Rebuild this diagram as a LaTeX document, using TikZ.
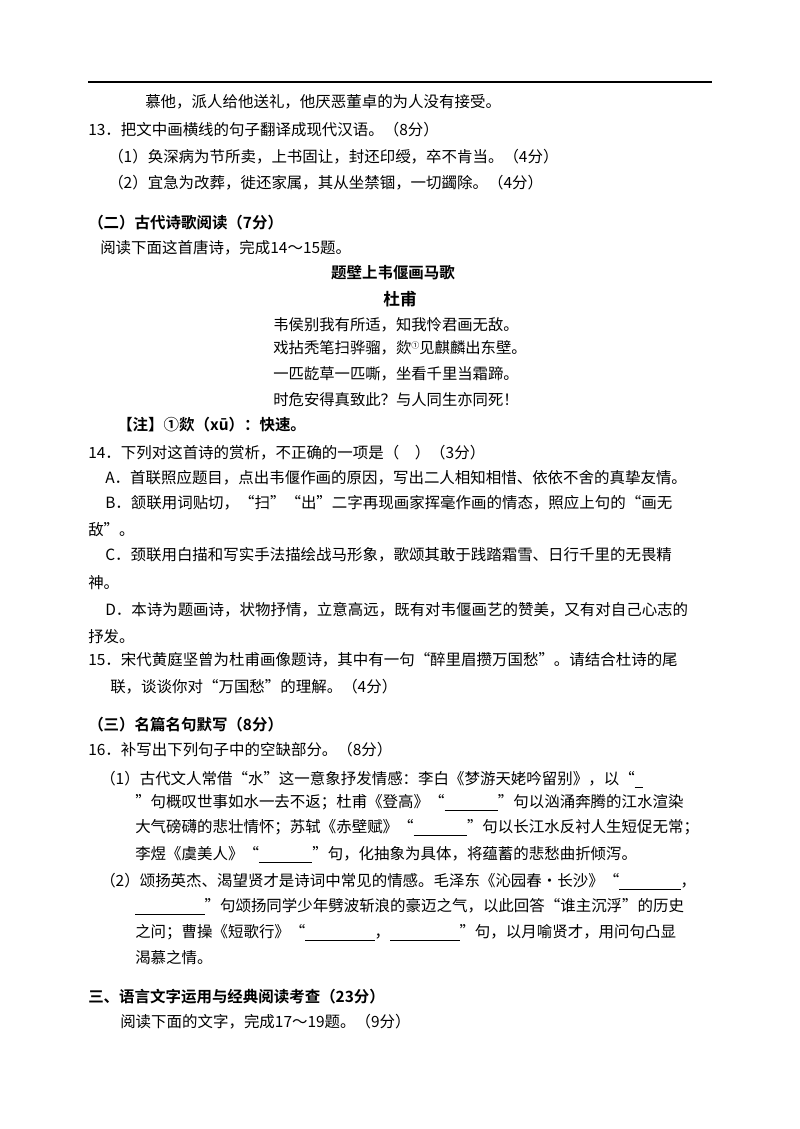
\documentclass[tikz,border=0pt]{standalone}
\usepackage{fontspec}
\setmainfont{Noto Sans CJK SC}
\newfontfamily\bfcjk{Noto Sans CJK SC Bold}
\newcommand{\blk}[1]{\rule[-2.5pt]{#1}{0.6pt}}
\begin{document}
\begin{tikzpicture}[x=0.75pt,y=-0.75pt,
  t/.style={anchor=west,inner sep=0pt,font=\fontsize{11.6pt}{14pt}\selectfont},
  hb/.style={anchor=west,inner sep=0pt,font=\fontsize{11.6pt}{14pt}\bfcjk},
  pm/.style={anchor=center,inner sep=0pt,font=\fontsize{11.5pt}{13pt}\selectfont}]
\useasboundingbox[fill=white] (0,0) rectangle (800,1129);
\draw[line width=1.2pt] (88,82) -- (712,82);
\node[t] (l1) at (145,102) {慕他，派人给他送礼，他厌恶董卓的为人没有接受。};
\node[t] (l2) at (88,130) {13．把文中画横线的句子翻译成现代汉语。（8分）};
\node[t] (l3) at (108,157) {（1）奂深病为节所卖，上书固让，封还印绶，卒不肯当。（4分）};
\node[t] (l4) at (108,183) {（2）宜急为改葬，徙还家属，其从坐禁锢，一切蠲除。（4分）};
\node[hb] (l5) at (88,223) {（二）古代诗歌阅读（7分）};
\node[t] (l6) at (100,248) {阅读下面这首唐诗，完成14～15题。};
\node[anchor=center,inner sep=0pt,font=\fontsize{11.6pt}{14pt}\bfcjk] (ti) at (393,273) {题壁上韦偃画马歌};
\node[anchor=center,inner sep=0pt,font=\fontsize{12.5pt}{14pt}\bfcjk] (au) at (400,299) {杜甫};
\node[pm] (p1) at (396,325) {韦侯别我有所适，知我怜君画无敌。};
\node[pm] (p2) at (400,348) {戏拈秃笔扫骅骝，欻\raisebox{4pt}{\fontsize{6pt}{7pt}\selectfont ①}见麒麟出东壁。};
\node[pm] (p3) at (396,374) {一匹龁草一匹嘶，坐看千里当霜蹄。};
\node[pm] (p4) at (396,400) {时危安得真致此？与人同生亦同死！};
\node[hb] (nt) at (117,425) {【注】①欻（xū）：快速。};
\node[t] (q14) at (88,453) {14．下列对这首诗的赏析，不正确的一项是（\quad）（3分）};
\node[t] (qa) at (105,478) {A．首联照应题目，点出韦偃作画的原因，写出二人相知相惜、依依不舍的真挚友情。};
\node[t] (qb) at (105,503) {B．颔联用词贴切，“扫”“出”二字再现画家挥毫作画的情态，照应上句的“画无};
\node[t] (qb2) at (88,530) {敌”。};
\node[t] (qc) at (105,555) {C．颈联用白描和写实手法描绘战马形象，歌颂其敢于践踏霜雪、日行千里的无畏精};
\node[t] (qc2) at (88,583) {神。};
\node[t] (qd) at (105,610) {D．本诗为题画诗，状物抒情，立意高远，既有对韦偃画艺的赞美，又有对自己心志的};
\node[t] (qd2) at (88,637) {抒发。};
\node[t] (q15) at (88,660) {15．宋代黄庭坚曾为杜甫画像题诗，其中有一句“醉里眉攒万国愁”。请结合杜诗的尾};
\node[t] (q15b) at (110,687) {联，谈谈你对“万国愁”的理解。（4分）};
\node[hb] (s3) at (88,725) {（三）名篇名句默写（8分）};
\node[t] (q16) at (88,750) {16．补写出下列句子中的空缺部分。（8分）};
\node[t] (a1) at (100,780) {（1）古代文人常借“水”这一意象抒发情感：李白《梦游天姥吟留别》，以“\blk{6pt}};
\node[t] (a2) at (135,803) {”句概叹世事如水一去不返；杜甫《登高》“\blk{40pt}”句以汹涌奔腾的江水渲染};
\node[t] (a3) at (135,828) {大气磅礴的悲壮情怀；苏轼《赤壁赋》“\blk{40pt}”句以长江水反衬人生短促无常；};
\node[t] (a4) at (135,855) {李煜《虞美人》“\blk{40pt}”句，化抽象为具体，将蕴蓄的悲愁曲折倾泻。};
\node[t] (b1) at (100,882) {（2）颂扬英杰、渴望贤才是诗词中常见的情感。毛泽东《沁园春·长沙》“\blk{46pt}，};
\node[t] (b2) at (135,907) {\blk{52pt}”句颂扬同学少年劈波斩浪的豪迈之气，以此回答“谁主沉浮”的历史};
\node[t] (b3) at (135,933) {之问；曹操《短歌行》“\blk{52pt}，\blk{52pt}”句，以月喻贤才，用问句凸显};
\node[t] (b4) at (135,958) {渴慕之情。};
\node[hb] (s4) at (88,997) {三、语言文字运用与经典阅读考查（23分）};
\node[t] (r1) at (120,1022) {阅读下面的文字，完成17～19题。（9分）};
\end{tikzpicture}
\end{document}
